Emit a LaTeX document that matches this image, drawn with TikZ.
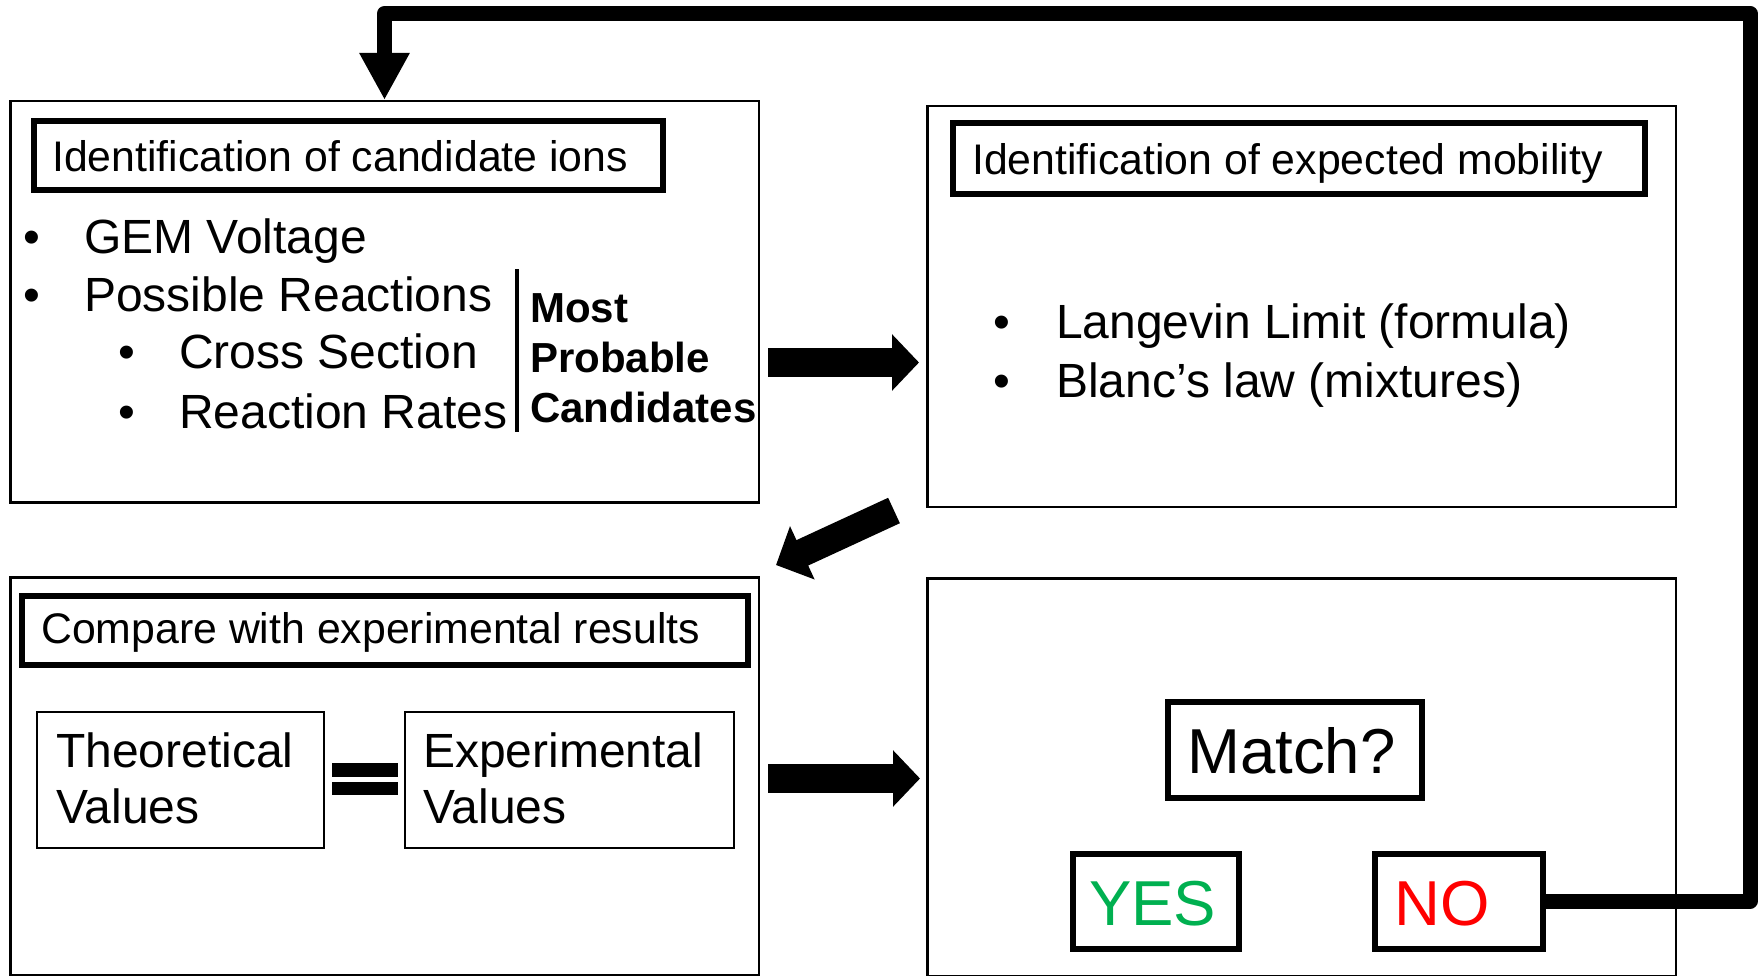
\documentclass[tikz,border=0pt]{standalone}
\usepackage{fontspec}
\setmainfont{Liberation Sans}
\usetikzlibrary{arrows.meta}
\begin{document}
\begin{tikzpicture}[x=1pt,y=-1pt,
  bigbox/.style={draw, line width=2.5pt, inner sep=0pt, anchor=north west},
  ttlbox/.style={draw, line width=6pt, inner sep=0pt, anchor=north west},
  valbox/.style={draw, line width=2pt, inner sep=0pt, anchor=north west},
  ttltxt/.style={anchor=base west, inner sep=0pt, font=\fontsize{42.8}{50}\selectfont},
  txt/.style={anchor=base west, inner sep=0pt, font=\fontsize{48}{56}\selectfont},
  boldtxt/.style={anchor=base west, inner sep=0pt, font=\fontsize{42}{50}\selectfont\bfseries},
  bigtxt/.style={anchor=base west, inner sep=0pt, font=\fontsize{63.5}{70}\selectfont},
  fat/.style={line width=29pt, -{Triangle[length=27pt,width=55pt]}},
  diag/.style={line width=28pt, -{Triangle[length=29pt,width=57pt]}},
  feedback/.style={line width=15pt, line join=round, -{Triangle[length=47pt,width=47pt]}}
]
\useasboundingbox (0,0) rectangle (1760,976);

% ---- Box 1
\node[bigbox, minimum width=748.5, minimum height=401] (b1) at (9,100) {};
\node[ttlbox, minimum width=629, minimum height=69] (t1) at (30.5,118.5) {};
\node[ttltxt] (t1x) at (52,172) {Identification of candidate ions};
\node[txt] (u1) at (23,254) {•};
\node[txt] (l1) at (84,254) {GEM Voltage};
\node[txt] (u2) at (23,311) {•};
\node[txt] (l2) at (84,311) {Possible Reactions};
\node[txt] (u3) at (118,368) {•};
\node[txt] (l3) at (179,368) {Cross Section};
\node[txt] (u4) at (118,428) {•};
\node[txt] (l4) at (179,428) {Reaction Rates};
\draw[line width=4.5pt] (517,269) -- (517,432);
\node[boldtxt] (m1) at (530,322) {Most};
\node[boldtxt] (m2) at (530,372) {Probable};
\node[boldtxt] (m3) at (530,422) {Candidates};

% ---- Box 2
\node[bigbox, minimum width=748.5, minimum height=400.5] (b2) at (926,105) {};
\node[ttlbox, minimum width=692, minimum height=71] (t2) at (949.5,120.5) {};
\node[ttltxt] (t2x) at (972,175) {Identification of expected mobility};
\node[txt] (v1) at (993,338) {•};
\node[txt] (k1) at (1056,338) {Langevin Limit (formula)};
\node[txt] (v2) at (993,397) {•};
\node[txt] (k2) at (1056,397) {Blanc’s law (mixtures)};

% ---- Box 3
\node[bigbox, minimum width=748.5, minimum height=398] (b3) at (9,576) {};
\node[ttlbox, minimum width=726, minimum height=69] (t3) at (18.5,592.5) {};
\node[ttltxt] (t3x) at (41,643) {Compare with experimental results};
\node[valbox, minimum width=287, minimum height=136] (theo) at (36,711) {};
\node[txt] (th1) at (56,767) {Theoretical};
\node[txt] (th2) at (56,823) {Values};
\node[valbox, minimum width=329, minimum height=136] (expv) at (404,711) {};
\node[txt] (ex1) at (423,767) {Experimental};
\node[txt] (ex2) at (423,823) {Values};
\fill (332,763) rectangle (398,777);
\fill (332,782) rectangle (398,795);

% ---- Box 4
\node[bigbox, minimum width=748.5, minimum height=398] (b4) at (926,577) {};
\node[ttlbox, minimum width=254, minimum height=96] (match) at (1164.5,698.5) {};
\node[bigtxt] (matchx) at (1187,773) {Match?};
\node[ttlbox, minimum width=166, minimum height=95] (yes) at (1069.5,850.5) {};
\node[bigtxt, text={rgb,255:red,0;green,176;blue,80}] (yesx) at (1089,925) {YES};
\node[ttlbox, minimum width=168, minimum height=95] (no) at (1371.5,850.5) {};
\node[bigtxt, text=red] (nox) at (1394,925) {NO};

% ---- Arrows
\draw[fat, shorten <=8pt, shorten >=7pt] (b1.east |- 0,362.5) -- (b2.west |- 0,362.5);
\draw[fat, shorten <=8pt, shorten >=6pt] (b3.east |- 0,778.5) -- (b4.west |- 0,778.5);
\coordinate (dt) at (894,510.5);
\coordinate (dh) at (776,565);
\draw[diag] (dt) -- (dh);
\draw[feedback] (no.east) -| (1750,13.5) -| (b1.north);
\end{tikzpicture}
\end{document}
